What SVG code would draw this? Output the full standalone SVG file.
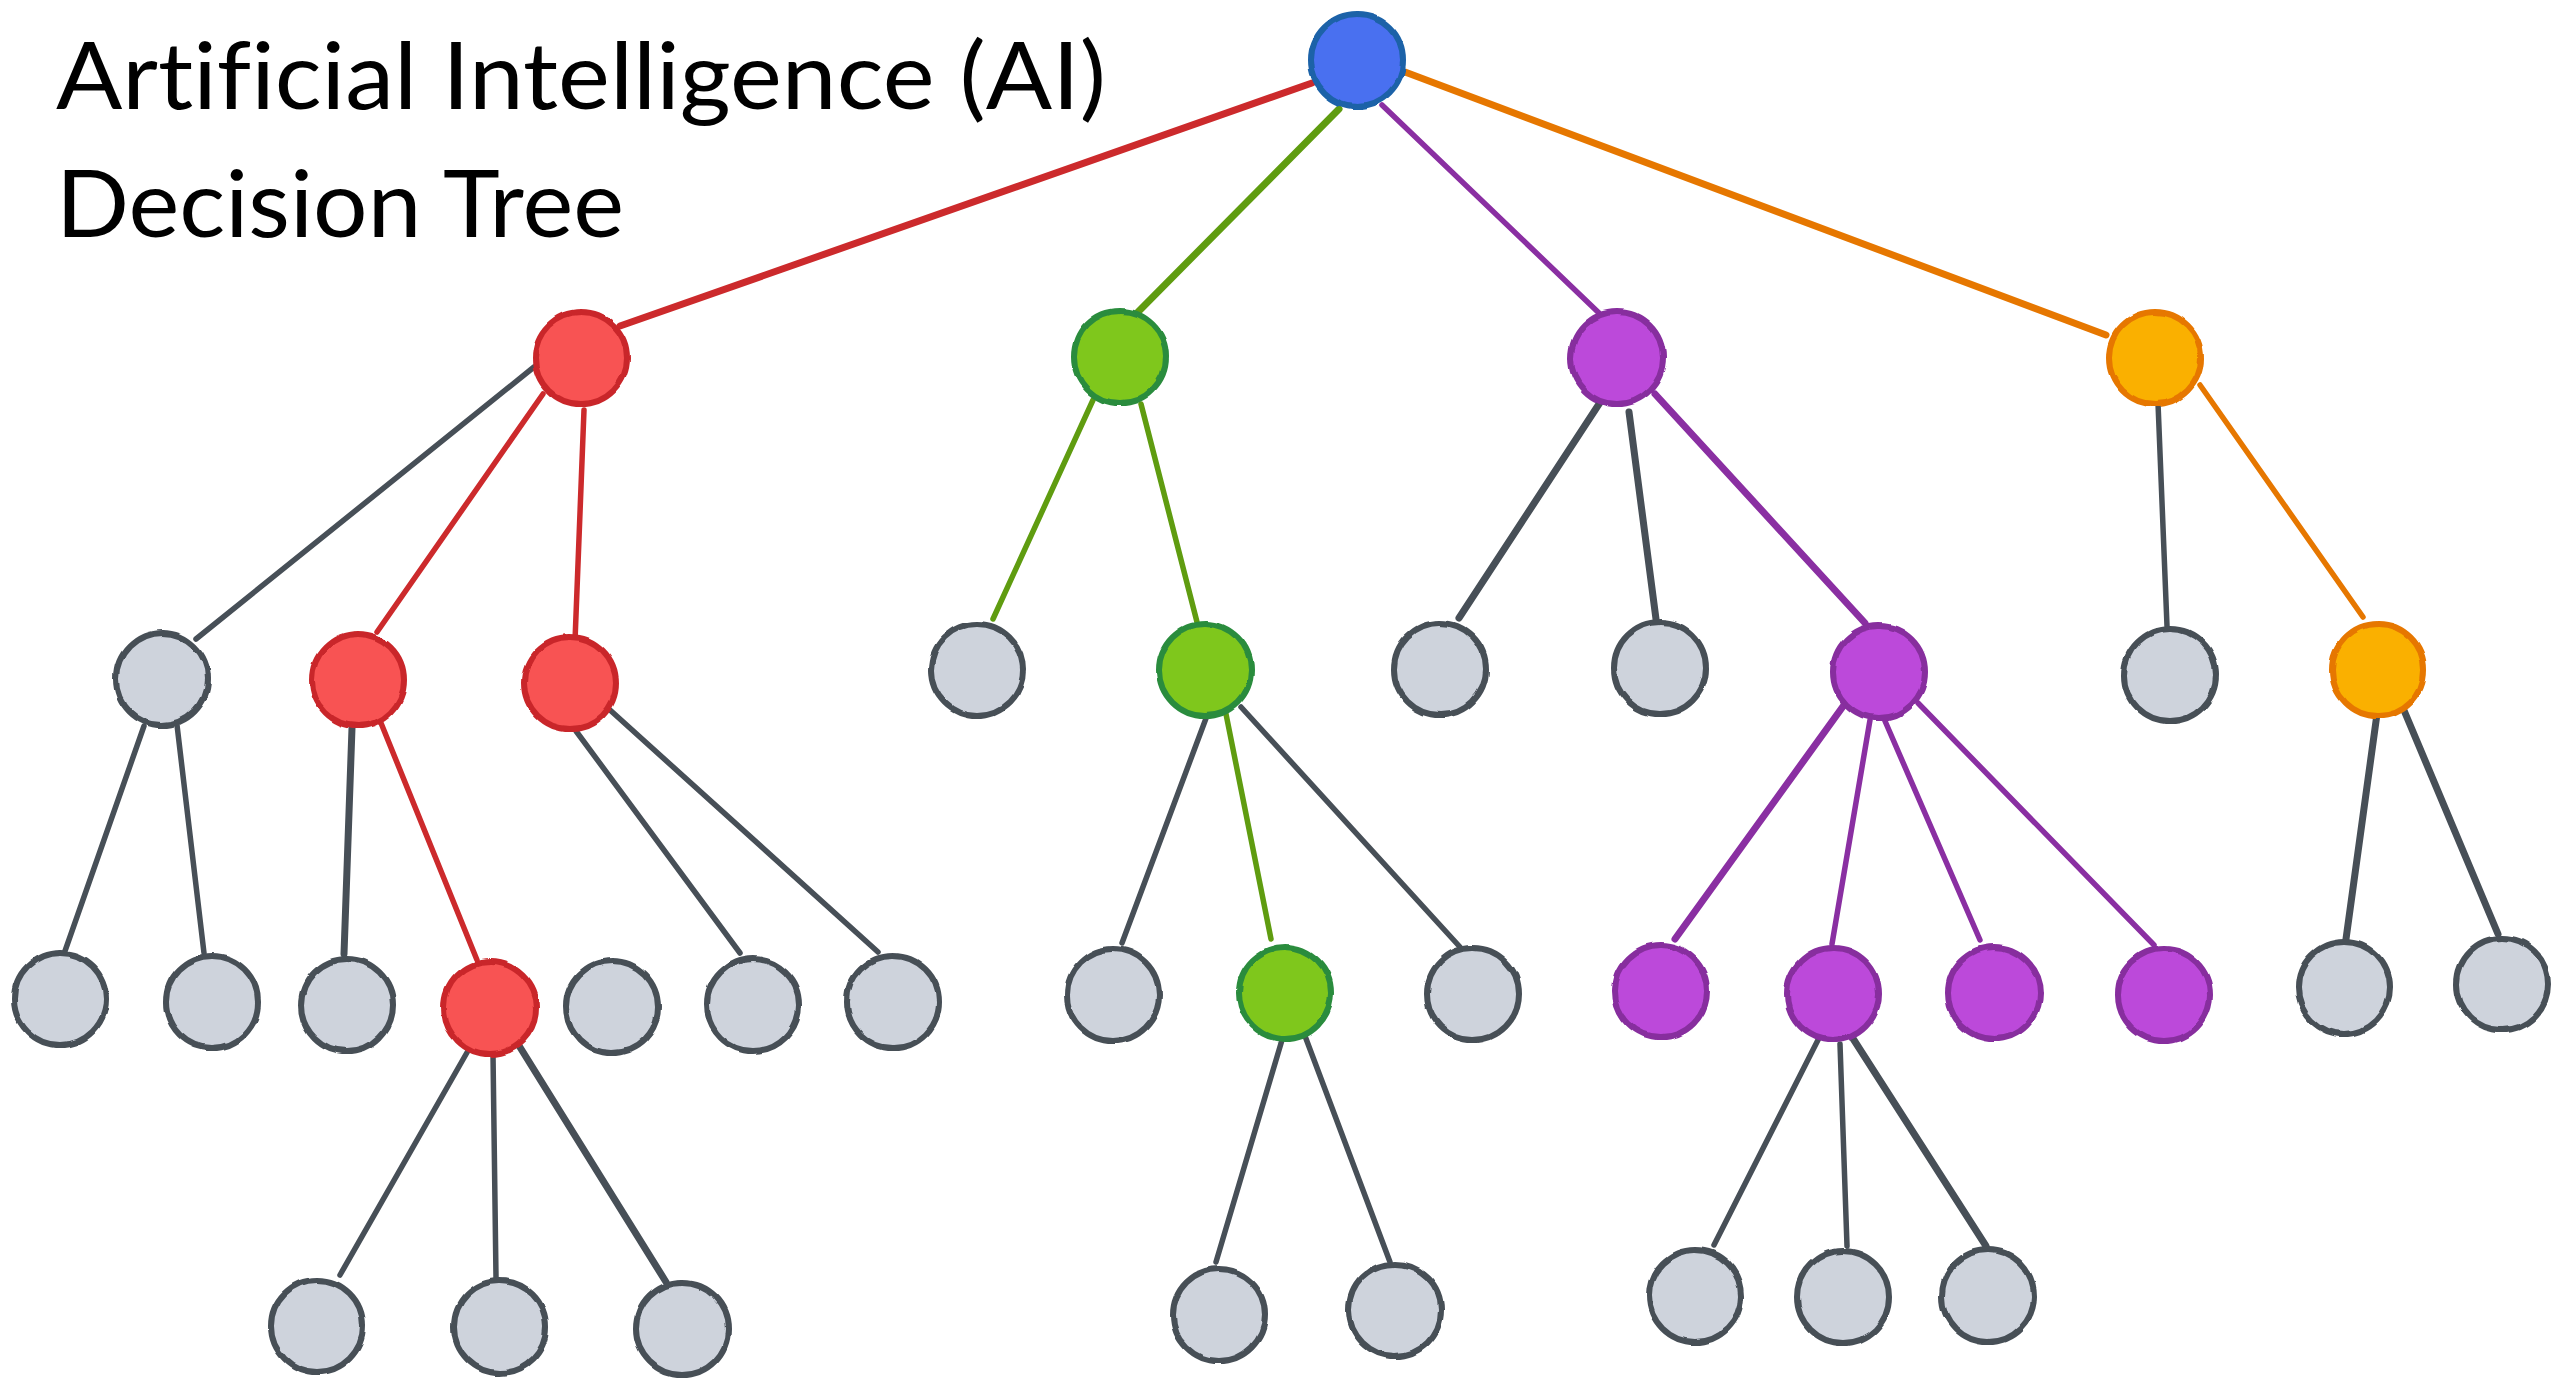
<svg xmlns="http://www.w3.org/2000/svg" width="2560" height="1379" viewBox="0 0 2560 1379">
  <defs>
    <!-- slight wobble so the outlines read as hand drawn -->
    <filter id="sketch" x="-20%" y="-20%" width="140%" height="140%">
      <feTurbulence type="fractalNoise" baseFrequency="0.035" numOctaves="2" seed="7" result="noise"/>
      <feDisplacementMap in="SourceGraphic" in2="noise" scale="4" xChannelSelector="R" yChannelSelector="G"/>
    </filter>
    <style>
      .title { font-family: "Lato", "Open Sans", "Liberation Sans", sans-serif; font-size: 94px; fill: #000;
               font-variant-ligatures: none; font-feature-settings: "liga" 0, "clig" 0; }
      .node { stroke-width: 6; filter: url(#sketch); }
      .blue   { fill: #4A6FF0; stroke: #1B62A8; }
      .red    { fill: #F85353; stroke: #C9282B; }
      .green  { fill: #7FC71E; stroke: #2B8C3E; }
      .purple { fill: #BC4ADA; stroke: #872E9E; }
      .orange { fill: #FAB005; stroke: #E67700; }
      .gray   { fill: #CED3DC; stroke: #474F57; }
      .edge { fill: none; stroke-width: 5.5; stroke-linecap: round; }
      .e-red    { stroke: #CC2A2C; }
      .e-green  { stroke: #5F9C10; }
      .e-purple { stroke: #8A2FA2; }
      .e-orange { stroke: #E67700; }
      .e-gray   { stroke: #474F57; }
      .thick { stroke-width: 7; }
    </style>
  </defs>

  <rect width="2560" height="1379" fill="#FFFFFF"/>

  <g id="title">
    <text class="title" x="56" y="109" textLength="1050" lengthAdjust="spacingAndGlyphs">Artificial Intelligence (AI)</text>
    <text class="title" x="56" y="237" textLength="568" lengthAdjust="spacingAndGlyphs">Decision Tree</text>
  </g>

  <g id="connectors">
    <!-- root to first level -->
    <line class="edge e-red thick" x1="1312" y1="83" x2="620" y2="326"/>
    <line class="edge e-green thick" x1="1339" y1="109" x2="1138" y2="312"/>
    <line class="edge e-purple" x1="1382" y1="105" x2="1599" y2="313"/>
    <line class="edge e-orange thick" x1="1405" y1="72" x2="2106" y2="335"/>

    <!-- red branch -->
    <line class="edge e-gray" x1="534" y1="367" x2="196" y2="639"/>
    <line class="edge e-red" x1="543" y1="394" x2="377" y2="632"/>
    <line class="edge e-red" x1="584" y1="410" x2="575" y2="641"/>
    <line class="edge e-gray" x1="144" y1="726" x2="65" y2="951"/>
    <line class="edge e-gray" x1="177" y1="725" x2="204" y2="953"/>
    <line class="edge e-gray thick" x1="352" y1="728" x2="344" y2="954"/>
    <line class="edge e-red" x1="381" y1="723" x2="477" y2="960"/>
    <line class="edge e-gray" x1="576" y1="731" x2="740" y2="953"/>
    <line class="edge e-gray" x1="610" y1="710" x2="878" y2="952"/>
    <line class="edge e-gray" x1="469" y1="1049" x2="340" y2="1275"/>
    <line class="edge e-gray" x1="493" y1="1054" x2="496" y2="1277"/>
    <line class="edge e-gray thick" x1="518" y1="1044" x2="666" y2="1282"/>

    <!-- green branch -->
    <line class="edge e-green" x1="1093" y1="400" x2="993" y2="619"/>
    <line class="edge e-green" x1="1141" y1="404" x2="1197" y2="622"/>
    <line class="edge e-gray" x1="1208" y1="713" x2="1122" y2="943"/>
    <line class="edge e-green" x1="1225" y1="709" x2="1271" y2="939"/>
    <line class="edge e-gray" x1="1241" y1="707" x2="1460" y2="947"/>
    <line class="edge e-gray" x1="1282" y1="1040" x2="1216" y2="1262"/>
    <line class="edge e-gray" x1="1305" y1="1036" x2="1390" y2="1262"/>

    <!-- purple branch -->
    <line class="edge e-gray thick" x1="1601" y1="401" x2="1459" y2="618"/>
    <line class="edge e-gray thick" x1="1629" y1="412" x2="1656" y2="619"/>
    <line class="edge e-purple thick" x1="1655" y1="394" x2="1865" y2="623"/>
    <line class="edge e-purple thick" x1="1844" y1="705" x2="1675" y2="939"/>
    <line class="edge e-purple" x1="1870" y1="720" x2="1832" y2="944"/>
    <line class="edge e-purple" x1="1885" y1="721" x2="1980" y2="940"/>
    <line class="edge e-purple" x1="1918" y1="703" x2="2154" y2="945"/>
    <line class="edge e-gray" x1="1820" y1="1036" x2="1714" y2="1245"/>
    <line class="edge e-gray" x1="1840" y1="1044" x2="1847" y2="1246"/>
    <line class="edge e-gray thick" x1="1852" y1="1037" x2="1986" y2="1246"/>

    <!-- orange branch -->
    <line class="edge e-gray" x1="2158" y1="403" x2="2167" y2="626"/>
    <line class="edge e-orange" x1="2200" y1="385" x2="2363" y2="617"/>
    <line class="edge e-gray thick" x1="2377" y1="714" x2="2346" y2="939"/>
    <line class="edge e-gray thick" x1="2403" y1="708" x2="2498" y2="934"/>
  </g>

  <!-- root -->
  <g id="root"><circle class="node blue" cx="1357" cy="60" r="46"/></g>

  <!-- first level -->
  <g id="n-red"><circle class="node red" cx="581" cy="358" r="46"/></g>
  <g id="n-green"><circle class="node green" cx="1120" cy="357" r="46"/></g>
  <g id="n-purple"><circle class="node purple" cx="1617" cy="358" r="46"/></g>
  <g id="n-orange"><circle class="node orange" cx="2155" cy="358" r="46"/></g>

  <!-- second level -->
  <g id="n-a"><circle class="node gray" cx="162" cy="679" r="46"/></g>
  <g id="n-b"><circle class="node red" cx="358" cy="680" r="46"/></g>
  <g id="n-c"><circle class="node red" cx="570" cy="683" r="46"/></g>
  <g id="n-d"><circle class="node gray" cx="977" cy="670" r="46"/></g>
  <g id="n-e"><circle class="node green" cx="1205" cy="670" r="46"/></g>
  <g id="n-f"><circle class="node gray" cx="1440" cy="669" r="46"/></g>
  <g id="n-g"><circle class="node gray" cx="1660" cy="668" r="46"/></g>
  <g id="n-h"><circle class="node purple" cx="1879" cy="672" r="46"/></g>
  <g id="n-i"><circle class="node gray" cx="2170" cy="675" r="46"/></g>
  <g id="n-j"><circle class="node orange" cx="2378" cy="670" r="46"/></g>

  <!-- third level -->
  <g id="n-a1"><circle class="node gray" cx="60" cy="999" r="46"/></g>
  <g id="n-a2"><circle class="node gray" cx="212" cy="1002" r="46"/></g>
  <g id="n-b1"><circle class="node gray" cx="347" cy="1005" r="46"/></g>
  <g id="n-b2"><circle class="node red" cx="490" cy="1008" r="46"/></g>
  <g id="n-x"><circle class="node gray" cx="612" cy="1007" r="46"/></g>
  <g id="n-c1"><circle class="node gray" cx="753" cy="1005" r="46"/></g>
  <g id="n-c2"><circle class="node gray" cx="893" cy="1002" r="46"/></g>
  <g id="n-e1"><circle class="node gray" cx="1113" cy="995" r="46"/></g>
  <g id="n-e2"><circle class="node green" cx="1285" cy="993" r="46"/></g>
  <g id="n-e3"><circle class="node gray" cx="1473" cy="994" r="46"/></g>
  <g id="n-h1"><circle class="node purple" cx="1661" cy="991" r="46"/></g>
  <g id="n-h2"><circle class="node purple" cx="1833" cy="994" r="46"/></g>
  <g id="n-h3"><circle class="node purple" cx="1994" cy="993" r="46"/></g>
  <g id="n-h4"><circle class="node purple" cx="2164" cy="995" r="46"/></g>
  <g id="n-j1"><circle class="node gray" cx="2344" cy="988" r="46"/></g>
  <g id="n-j2"><circle class="node gray" cx="2502" cy="984" r="46"/></g>

  <!-- fourth level -->
  <g id="n-b2a"><circle class="node gray" cx="317" cy="1326" r="46"/></g>
  <g id="n-b2b"><circle class="node gray" cx="500" cy="1327" r="46"/></g>
  <g id="n-b2c"><circle class="node gray" cx="682" cy="1329" r="46"/></g>
  <g id="n-e2a"><circle class="node gray" cx="1219" cy="1315" r="46"/></g>
  <g id="n-e2b"><circle class="node gray" cx="1395" cy="1310" r="46"/></g>
  <g id="n-h2a"><circle class="node gray" cx="1695" cy="1296" r="46"/></g>
  <g id="n-h2b"><circle class="node gray" cx="1843" cy="1297" r="46"/></g>
  <g id="n-h2c"><circle class="node gray" cx="1988" cy="1296" r="46"/></g>
</svg>
